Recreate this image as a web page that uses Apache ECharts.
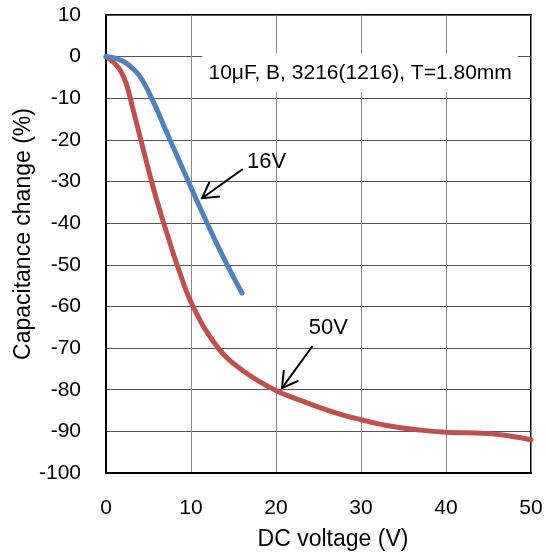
<!DOCTYPE html>
<html>
<head>
<meta charset="utf-8">
<script src="https://cdn.jsdelivr.net/npm/echarts@6/dist/echarts.min.js"></script>
<style>html,body{margin:0;padding:0;background:#fff}#c{width:546px;height:555px}</style>
</head>
<body>
<div id="c"></div>
<script>
// Data
const xTicks = [0, 10, 20, 30, 40, 50];
const yTicks = [10, 0, -10, -20, -30, -40, -50, -60, -70, -80, -90, -100];
const v16X = [0, 1, 2.4, 4, 5.6, 7.1, 8.7, 10.3, 11.9, 13, 14.5, 16];
const v16Y = [0, -0.3, -1.6, -4.8, -11.0, -18.0, -25.4, -32.8, -40, -44.8, -51, -56.8];
const v50X = [0, 0.8, 1.65, 2.4, 3.2, 4, 4.8, 5.6, 6.55, 7.5, 8.3, 10.1, 13.2, 16.5, 20, 23.2, 27.1, 30, 33, 37, 40, 44.8, 47.5, 50];
const v50Y = [0, -1.2, -3.2, -6.6, -12.8, -19.2, -25.6, -31.8, -38.4, -44.6, -49.6, -59.4, -70, -76, -80.2, -82.8, -85.6, -87.2, -88.6, -89.7, -90.2, -90.5, -91.1, -92];
const seriesNames = ['16V', '50V'];
const arrowTails = [[16.1, -27.0], [24.3, -69.5]];
const arrowTips = [[11.3, -34.0], [20.7, -79.6]];
const labelPos = [[18.9, -25.3], [26.15, -65.2]];
const noteText = '10μF, B, 3216(1216), T=1.80mm';
const notePos = [29.9, -3.9];
const xTitle = 'DC voltage (V)';
const yTitle = 'Capacitance change (%)';

const FONT = 'Arial, "Liberation Sans", sans-serif';
const chart = echarts.init(document.getElementById('c'), null, {renderer: 'canvas'});

const arrowData = arrowTails.map((t, i) => [t[0], t[1], arrowTips[i][0], arrowTips[i][1]]);
const textData = labelPos.map((p, i) => [p[0], p[1], seriesNames[i], 0]).concat([[notePos[0], notePos[1], noteText, 1]]);

chart.setOption({
  animation: false,
  grid: {left: 106, right: 15, top: 15, bottom: 82, show: true, borderColor: '#000', borderWidth: 2, backgroundColor: 'transparent'},
  xAxis: {
    type: 'value', min: 0, max: 50, interval: 10,
    axisLine: {show: true, onZero: false, lineStyle: {color: '#000', width: 2}},
    axisTick: {show: false},
    axisLabel: {color: '#000', fontSize: 21, fontFamily: FONT, margin: 25},
    splitLine: {show: true, lineStyle: {color: '#888', width: 1}}
  },
  yAxis: {
    type: 'value', min: -100, max: 10, interval: 10,
    axisLine: {show: true, onZero: false, lineStyle: {color: '#000', width: 2}},
    axisTick: {show: false},
    axisLabel: {color: '#000', fontSize: 21, fontFamily: FONT, margin: 25},
    splitLine: {show: true, lineStyle: {color: '#555', width: 1}}
  },
  graphic: [
    {type: 'text', x: 333, y: 540, style: {text: xTitle, fill: '#000', font: '23px ' + FONT, align: 'center', verticalAlign: 'middle'}},
    {type: 'text', x: 24, y: 234, rotation: Math.PI / 2, style: {text: yTitle, fill: '#000', font: '23px ' + FONT, align: 'center', verticalAlign: 'middle'}}
  ],
  series: [
    {
      name: seriesNames[1], type: 'line', showSymbol: false, smooth: 0.4,
      lineStyle: {color: '#C0504D', width: 5, cap: 'round', join: 'round'},
      data: v50X.map((x, i) => [x, v50Y[i]]), z: 3
    },
    {
      name: seriesNames[0], type: 'line', showSymbol: false, smooth: 0.4,
      lineStyle: {color: '#4F81BD', width: 5, cap: 'round', join: 'round'},
      data: v16X.map((x, i) => [x, v16Y[i]]), z: 4
    },
    {
      type: 'custom', z: 6, clip: false,
      encode: {x: [0, 2], y: [1, 3]},
      data: arrowData,
      renderItem: function (params, api) {
        const a = api.coord([api.value(0), api.value(1)]);
        const b = api.coord([api.value(2), api.value(3)]);
        const ang = Math.atan2(a[1] - b[1], a[0] - b[0]);
        const L = 18, sp = Math.PI / 6;
        const h1 = [b[0] + L * Math.cos(ang + sp), b[1] + L * Math.sin(ang + sp)];
        const h2 = [b[0] + L * Math.cos(ang - sp), b[1] + L * Math.sin(ang - sp)];
        const st = {stroke: '#000', lineWidth: 2, fill: null};
        return {type: 'group', children: [
          {type: 'polyline', shape: {points: [a, b]}, style: st},
          {type: 'polyline', shape: {points: [h1, b, h2]}, style: st}
        ]};
      }
    },
    {
      type: 'custom', z: 7, clip: false,
      data: textData,
      renderItem: function (params, api) {
        const p = api.coord([api.value(0), api.value(1)]);
        const d = textData[params.dataIndex];
        const isNote = d[3] === 1;
        return {
          type: 'text', x: p[0], y: p[1],
          style: {
            text: d[2], fill: '#000', font: (isNote ? '21px ' : '22px ') + FONT,
            align: 'center', verticalAlign: 'middle',
            backgroundColor: isNote ? '#fff' : null,
            padding: isNote ? [9, 6, 9, 6] : 0
          }
        };
      }
    }
  ]
});
</script>
</body>
</html>
